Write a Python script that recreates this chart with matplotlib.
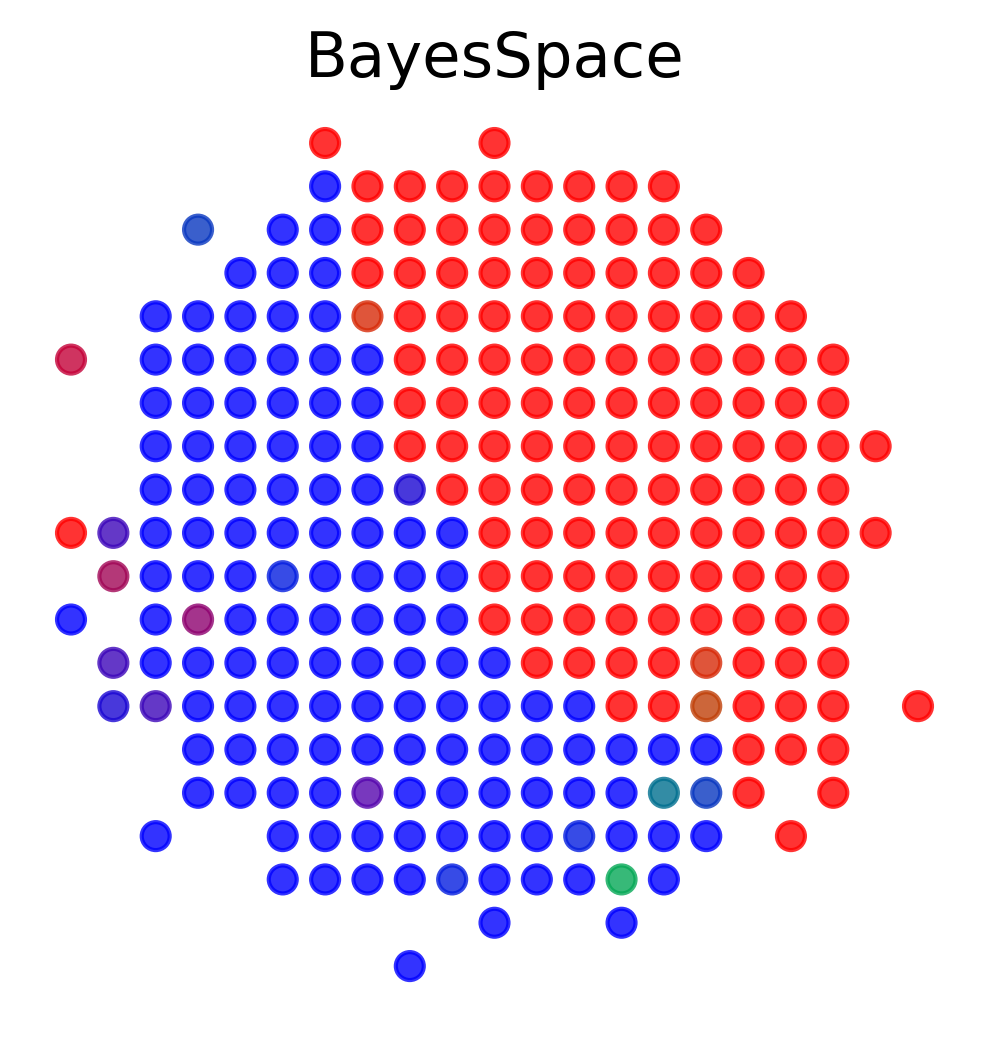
import matplotlib
matplotlib.use('Agg')
import matplotlib.pyplot as plt

# Spot layout: one string per array row, one character per column
# '.' = no spot, letters = cluster / mixed-probability colour code
spot_rows = [
    "......R...R..........",
    "......BRRRRRRRR......",
    "...a.BBRRRRRRRRR.....",
    "....BBBRRRRRRRRRR....",
    "..BBBBBoRRRRRRRRRR...",
    "c.BBBBBBRRRRRRRRRRR..",
    "..BBBBBBRRRRRRRRRRR..",
    "..BBBBBBRRRRRRRRRRRR.",
    "..BBBBBBpRRRRRRRRRR..",
    "RqBBBBBBBBRRRRRRRRRR.",
    ".mBBBbBBBBRRRRRRRRR..",
    "B.BnBBBBBBRRRRRRRRR..",
    ".qBBBBBBBBBRRRRoRRR..",
    ".pqBBBBBBBBBBRRrRRR.R",
    "...BBBBBBBBBBBBBRRR..",
    "...BBBBvBBBBBBtaR.R..",
    "..B..BBBBBBBbBBB.R...",
    ".....BBBBbBBBgB......",
    "..........B..B.......",
    "........B............",
]

spot_colors = {
    'R': '#ff0000', 'B': '#0000ff', 'a': '#0937c0', 'c': '#c40138',
    'p': '#1a06d3', 'q': '#3d06ba', 'm': '#a10656', 'n': '#8e016f',
    'b': '#051ee0', 'o': '#d82a08', 'r': '#c04008', 'v': '#5606ae',
    't': '#006f8f', 'g': '#05a856',
}

xs, ys, cs = [], [], []
for r, line in enumerate(spot_rows):
    for c, code in enumerate(line):
        if code == '.':
            continue
        xs.append(c)
        ys.append(-r)
        cs.append(spot_colors[code])

fig = plt.figure(figsize=(3.3, 3.46), dpi=300)
ax = fig.add_axes([0, 0, 1, 1])
ax.scatter(xs, ys, c=cs, edgecolors=cs, s=45, linewidths=1.0, alpha=0.8)
ax.set_xlim(-71 / 42.35, (990 - 71) / 42.35)
ax.set_ylim(-(1038 - 143) / 43.32, 143 / 43.32)
ax.axis('off')

fig.text(0.5, 1 - 60 / 1038, 'BayesSpace', ha='center', va='center', fontsize=15)

fig.savefig('out.png', dpi=300)
